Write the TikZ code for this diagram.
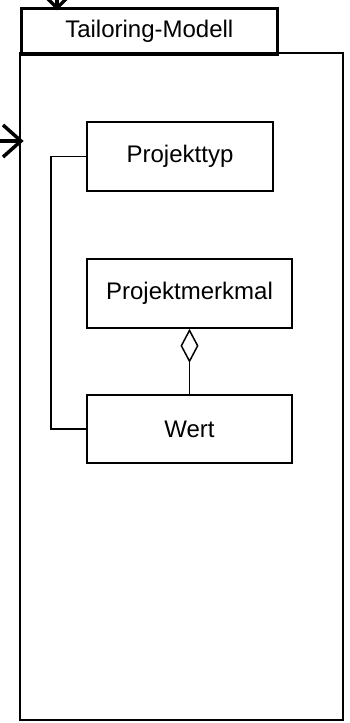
\documentclass[tikz,border=0pt]{standalone}
\usepackage{fontspec}
\setmainfont{Liberation Sans}
\usetikzlibrary{arrows.meta}
\begin{document}
\begin{tikzpicture}[x={(1pt,0)},y={(0,-1pt)},
  cls/.style={draw,line width=1.6pt,minimum height=69pt,inner sep=0pt,font=\fontsize{24}{28}\selectfont},
  pkg/.style={draw,line width=2.6pt},
  conn/.style={line width=1.5pt},
  ext/.style={line width=3.5pt}]
\clip (0,0) rectangle (349,723);
\fill[white] (0,0) rectangle (349,723);
% package body and tab
\draw[pkg] (20,53) rectangle (343,720);
\node[pkg,minimum width=256pt,minimum height=46pt,inner sep=0pt,anchor=north west,font=\fontsize{24}{28}\selectfont] (tab) at (20,7) {Tailoring-Modell};
% classes
\node[cls,minimum width=186pt] (pt) at (180,156.5) {Projekttyp};
\node[cls,minimum width=205pt] (pm) at (189.5,293.5) {Projektmerkmal};
\node[cls,minimum width=205pt,minimum height=68pt] (wert) at (189.5,429) {Wert};
% connectors
\draw[conn,-{Diamond[open,length=34pt,width=18pt,line width=1.5pt]}] (wert.north) -- (pm.south);
\draw[conn] (pt.west) -- ++(-35,0) |- (wert.west);
% external arrows
\coordinate (inL) at (21,141);
\coordinate (inT) at (57,8);
\draw[ext] (0,141) -- (inL);
\draw[ext] (3,125) -- (inL) -- (3,157);
\draw[ext] (57,-10) -- (inT);
\draw[ext] (45,-4) -- (inT) -- (69,-4);
\end{tikzpicture}
\end{document}
